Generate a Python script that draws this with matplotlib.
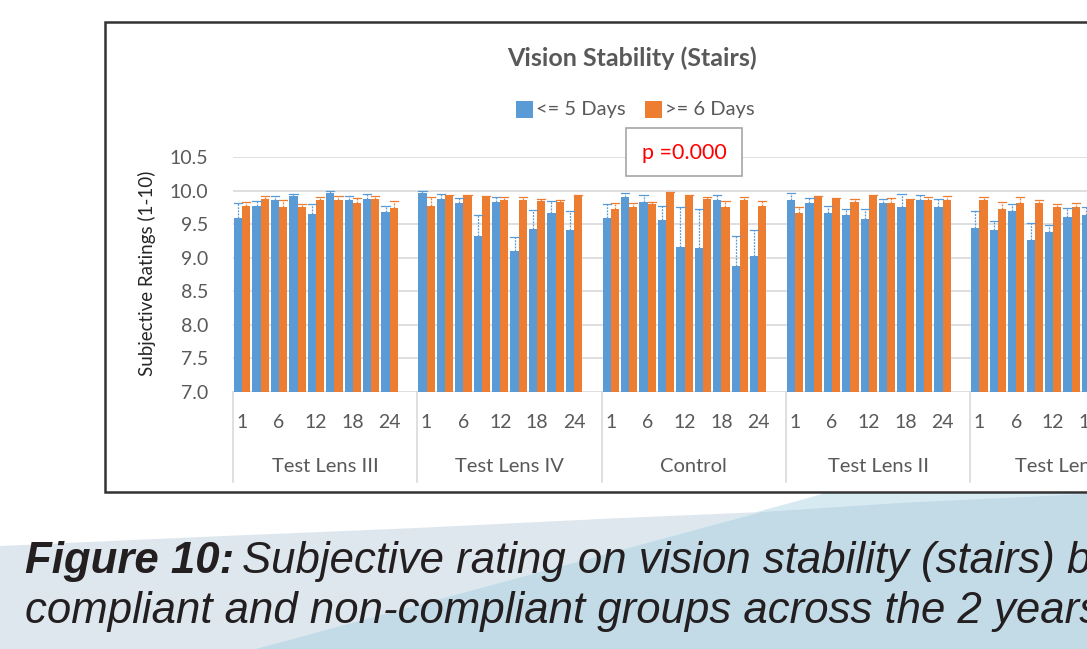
import numpy as np
import matplotlib
matplotlib.use("Agg")
import matplotlib.pyplot as plt
from matplotlib.patches import Polygon, Rectangle

W, H = 1087, 649

groups = ["Test Lens III", "Test Lens IV", "Control", "Test Lens II", "Test Lens I"]
months = ["1", "3", "6", "9", "12", "15", "18", "21", "24"]
tick_months = ["1", "6", "12", "18", "24"]

nan = np.nan
le5 = {
    "Test Lens III": [9.59, 9.77, 9.86, 9.92, 9.65, 9.97, 9.86, 9.87, 9.68],
    "Test Lens IV": [9.97, 9.87, 9.81, 9.33, 9.83, 9.10, 9.43, 9.66, 9.41],
    "Control": [9.59, 9.91, 9.83, 9.56, 9.16, 9.15, 9.86, 8.87, 9.03],
    "Test Lens II": [9.86, 9.81, 9.66, 9.63, 9.58, 9.81, 9.75, 9.86, 9.75],
    "Test Lens I": [9.45, 9.41, 9.70, 9.26, 9.38, 9.61, 9.63, nan, nan],
}
ge6 = {
    "Test Lens III": [9.77, 9.87, 9.76, 9.75, 9.86, 9.86, 9.81, 9.87, 9.74],
    "Test Lens IV": [9.77, 9.92, 9.93, 9.90, 9.86, 9.86, 9.85, 9.83, 9.93],
    "Control": [9.73, 9.76, 9.80, 9.97, 9.92, 9.87, 9.76, 9.86, 9.77],
    "Test Lens II": [9.66, 9.90, 9.88, 9.83, 9.92, 9.81, 9.86, 9.86, 9.86],
    "Test Lens I": [9.86, 9.73, 9.81, 9.81, 9.75, 9.75, nan, nan, nan],
}
le5_err = {
    "Test Lens III": [0.22, 0.08, 0.06, 0.03, 0.15, 0.03, 0.06, 0.08, 0.09],
    "Test Lens IV": [0.03, 0.08, 0.08, 0.30, 0.08, 0.21, 0.28, 0.18, 0.28],
    "Control": [0.21, 0.05, 0.10, 0.21, 0.60, 0.58, 0.08, 0.45, 0.38],
    "Test Lens II": [0.10, 0.08, 0.11, 0.10, 0.15, 0.06, 0.20, 0.08, 0.13],
    "Test Lens I": [0.25, 0.13, 0.10, 0.25, 0.11, 0.13, 0.13, nan, nan],
}
ge6_err = {
    "Test Lens III": [0.06, 0.05, 0.10, 0.05, 0.05, 0.06, 0.08, 0.05, 0.10],
    "Test Lens IV": [0.13, 0.01, 0.01, 0.02, 0.04, 0.04, 0.03, 0.03, 0.01],
    "Control": [0.08, 0.05, 0.03, 0.01, 0.01, 0.03, 0.08, 0.04, 0.07],
    "Test Lens II": [0.10, 0.02, 0.01, 0.04, 0.01, 0.08, 0.01, 0.04, 0.06],
    "Test Lens I": [0.05, 0.10, 0.10, 0.05, 0.05, 0.06, nan, nan, nan],
}

BLUE = "#5b9bd5"
ORANGE = "#ed7d31"
GRID = "#d9d9d9"
TXT = "#595959"
CHART_FONT = ["Lato", "DejaVu Sans"]

fig = plt.figure(figsize=(W / 100, H / 100), dpi=100)
fig.patch.set_facecolor("white")

def fx(x):
    return x / W

def fy(y):
    return 1 - y / H

# ---- background shapes below chart ----
curve = [(0, 546), (200, 537), (416, 528), (600, 519), (762, 512), (900, 503), (1087, 494)]
fig.add_artist(Polygon([(fx(x), fy(y)) for x, y in curve + [(1087, 649), (0, 649)]],
                       closed=True, transform=fig.transFigure, facecolor="#dfe7ee",
                       edgecolor="none", zorder=-10))
fig.add_artist(Polygon([(fx(x), fy(y)) for x, y in [(256, 649), (830, 492), (1087, 492), (1087, 649)]],
                       closed=True, transform=fig.transFigure, facecolor="#d7eaf1",
                       edgecolor="none", zorder=-9))
dark = [(256, 649), (762, 512), (900, 503), (1087, 494), (1087, 649)]
fig.add_artist(Polygon([(fx(x), fy(y)) for x, y in dark],
                       closed=True, transform=fig.transFigure, facecolor="#c3dbe7",
                       edgecolor="none", zorder=-8))

# ---- chart frame ----
fig.add_artist(Rectangle((fx(105), fy(492)), fx(1300) - fx(105), fy(22) - fy(492),
                         transform=fig.transFigure, facecolor="white",
                         edgecolor="#333333", linewidth=1.8, zorder=-5))

# ---- axes ----
cat_px = 18.43
n_cat = 10 * len(groups)
left_px, right_px = 233, 233 + n_cat * cat_px
top_px, bot_px = 157, 392
ax = fig.add_axes([fx(left_px), fy(bot_px), fx(right_px) - fx(left_px), fy(top_px) - fy(bot_px)])
ax.set_facecolor("none")
ax.set_xlim(0, n_cat)
ax.set_ylim(7.0, 10.5)
for s in ax.spines.values():
    s.set_visible(False)
yt = np.arange(7.0, 10.51, 0.5)
ax.set_yticks(yt)
ax.set_yticklabels([f"{v:.1f}" for v in yt], fontsize=14, color=TXT, family=CHART_FONT)
ax.tick_params(axis="y", length=0, pad=18)
ax.set_xticks([])
for v in yt:
    ax.axhline(v, color=GRID, lw=1.2, zorder=0)

bw = 0.445
for gi, g in enumerate(groups):
    xs = gi * 10 + np.arange(len(months)) + 0.5
    b = np.array(le5[g], dtype=float)
    o = np.array(ge6[g], dtype=float)
    be = np.array(le5_err[g], dtype=float)
    oe = np.array(ge6_err[g], dtype=float)
    ax.bar(xs - bw / 2, b - 7.0, bw, bottom=7.0, color=BLUE, zorder=2)
    ax.bar(xs + bw / 2, o - 7.0, bw, bottom=7.0, color=ORANGE, zorder=2)
    for x, v, e in zip(xs - bw / 2, b, be):
        if np.isnan(v):
            continue
        ax.plot([x, x], [v, v + e], color=BLUE, lw=0.9, ls=(0, (1.5, 1)), zorder=3)
        ax.plot([x - bw / 2, x + bw / 2], [v + e, v + e], color=BLUE, lw=0.9, zorder=3)
    for x, v, e in zip(xs + bw / 2, o, oe):
        if np.isnan(v):
            continue
        ax.plot([x, x], [v, v + e], color=ORANGE, lw=0.9, ls=(0, (1.5, 1)), zorder=3)
        ax.plot([x - bw / 2, x + bw / 2], [v + e, v + e], color=ORANGE, lw=0.9, zorder=3)

# ---- category axis (two levels) ----
for k in range(len(groups) + 1):
    xp = left_px + k * 10 * cat_px
    fig.add_artist(plt.Line2D([fx(xp), fx(xp)], [fy(392), fy(482)], transform=fig.transFigure,
                              color=GRID, lw=1.2))
for gi, g in enumerate(groups):
    for j, m in enumerate(months):
        if m in tick_months:
            xp = left_px + (gi * 10 + j + 0.5) * cat_px
            fig.text(fx(xp), fy(423), m, ha="center", va="center", fontsize=14,
                     color=TXT, family=CHART_FONT)
    xc = left_px + (gi * 10 + 5) * cat_px
    fig.text(fx(xc), fy(467), g, ha="center", va="center", fontsize=14.5,
             color=TXT, family=CHART_FONT)

# ---- titles / legend / labels ----
fig.text(fx(632), fy(58), "Vision Stability (Stairs)", ha="center", va="center",
         fontsize=18, fontweight="bold", color=TXT, family=CHART_FONT)
fig.text(fx(147), fy(273), "Subjective Ratings (1-10)", ha="center", va="center",
         rotation=90, fontsize=13.5, color="#262626", family=CHART_FONT)

fig.add_artist(Rectangle((fx(516), fy(118)), fx(533) - fx(516), fy(101) - fy(118),
                         transform=fig.transFigure, facecolor=BLUE, edgecolor="none"))
fig.text(fx(536), fy(110), "<= 5 Days", ha="left", va="center", fontsize=14.5,
         color=TXT, family=CHART_FONT)
fig.add_artist(Rectangle((fx(645), fy(118)), fx(662) - fx(645), fy(101) - fy(118),
                         transform=fig.transFigure, facecolor=ORANGE, edgecolor="none"))
fig.text(fx(665), fy(110), ">= 6 Days", ha="left", va="center", fontsize=14.5,
         color=TXT, family=CHART_FONT)

fig.add_artist(Rectangle((fx(626), fy(176)), fx(742) - fx(626), fy(128) - fy(176),
                         transform=fig.transFigure, facecolor="white",
                         edgecolor="#a6a6a6", linewidth=1.2, zorder=5))
fig.text(fx(684), fy(153), "p =0.000", ha="center", va="center", fontsize=15.5,
         color="#ff0000", family=CHART_FONT, zorder=6)

# ---- caption ----
cap_font = ["Liberation Sans", "DejaVu Sans"]
CAP_FS = 31.5
c1 = fig.text(fx(25), fy(562), "Figure 10:", ha="left", va="center", fontsize=CAP_FS,
              fontweight="bold", fontstyle="italic", color="#231f20", family=cap_font)
fig.canvas.draw()
bb = c1.get_window_extent()
fig.text((bb.x1 + 8) / W, fy(562), "Subjective rating on vision stability (stairs) between",
         ha="left", va="center", fontsize=CAP_FS, fontstyle="italic", color="#231f20", family=cap_font)
fig.text(fx(25), fy(611), "compliant and non-compliant groups across the 2 years",
         ha="left", va="center", fontsize=CAP_FS, fontstyle="italic", color="#231f20", family=cap_font)

fig.savefig("out.png", dpi=100)
